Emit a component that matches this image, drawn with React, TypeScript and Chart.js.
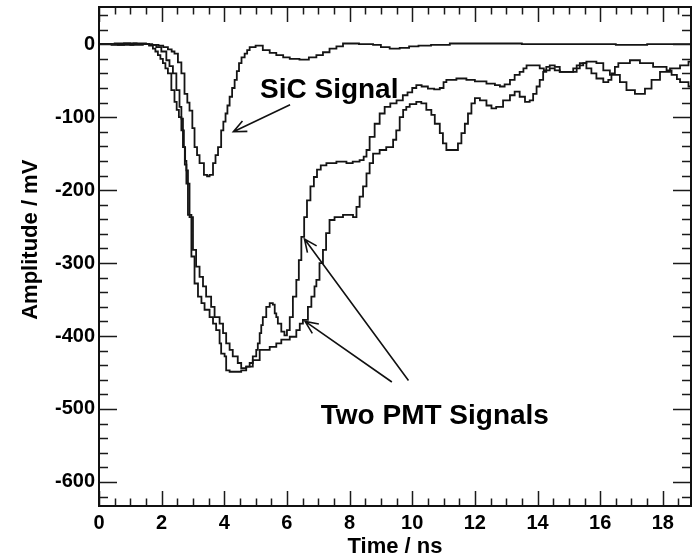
import { useEffect, useRef } from 'react';
import { Chart, registerables } from 'chart.js';

Chart.register(...registerables);

const FONT = '"Liberation Sans", Arial, Helvetica, sans-serif';

// [time (ns), amplitude (mV)], step edges
const sicSignal: [number, number][] = [
  [0, 0], [0.4, -1], [0.8, 1], [1.2, 0], [1.6, -1], [1.9, -2], [2.05, -4], [2.2, -7], [2.32, -10], [2.41, -13],
  [2.52, -25], [2.63, -40], [2.73, -68], [2.82, -80], [2.89, -91], [2.98, -115], [3.05, -141], [3.13, -152], [3.21, -163], [3.35, -179],
  [3.45, -181], [3.53, -179], [3.64, -163], [3.72, -152], [3.8, -141], [3.9, -118], [3.97, -106], [4.04, -95], [4.1, -84], [4.17, -72],
  [4.25, -60], [4.33, -49], [4.4, -37], [4.47, -26], [4.55, -18], [4.65, -13], [4.73, -8], [4.81, -4], [5.0, -2], [5.23, -8],
  [5.45, -12], [5.66, -15], [5.88, -18], [6.09, -20], [6.4, -21], [6.7, -18], [6.94, -15], [7.15, -11], [7.36, -6], [7.58, -3],
  [7.79, 1], [8.3, 0], [8.75, -1], [9.0, -4], [9.28, -6], [9.6, -5], [9.9, -3], [10.2, -2], [10.6, -1], [11.2, 1],
  [12.2, 1], [13.5, 0], [15.0, 0], [16.5, -1], [17.5, 0], [18.9, 0],
];

const pmtSignalA: [number, number][] = [
  [0, 0], [0.5, 1], [1.0, -1], [1.4, 0], [1.6, -2], [1.72, -6], [1.8, -10], [1.88, -15], [1.96, -20], [2.04, -26],
  [2.12, -33], [2.2, -40], [2.31, -63], [2.41, -79], [2.48, -90], [2.55, -100], [2.63, -118], [2.68, -141], [2.74, -165], [2.79, -191],
  [2.84, -234], [2.95, -291], [3.05, -328], [3.16, -346], [3.27, -355], [3.37, -364], [3.53, -374], [3.64, -383], [3.74, -392], [3.85, -410],
  [3.9, -424], [4.01, -428], [4.06, -447], [4.17, -449], [4.54, -447], [4.7, -442], [4.81, -437], [4.91, -428], [5.02, -419], [5.07, -410],
  [5.13, -396], [5.18, -385], [5.23, -374], [5.34, -360], [5.45, -355], [5.55, -357], [5.61, -369], [5.66, -374], [5.71, -383], [5.82, -394],
  [5.92, -399], [6.0, -392], [6.09, -374], [6.19, -346], [6.3, -323], [6.38, -296], [6.46, -264], [6.55, -237], [6.64, -214], [6.75, -195],
  [6.86, -182], [6.96, -172], [7.08, -166], [7.26, -163], [7.58, -161], [7.9, -163], [8.1, -161], [8.32, -159], [8.45, -154], [8.54, -145],
  [8.64, -127], [8.8, -109], [8.96, -95], [9.12, -86], [9.3, -81], [9.5, -77], [9.7, -70], [9.85, -66], [10.0, -60], [10.13, -56],
  [10.3, -58], [10.5, -61], [10.7, -62], [10.88, -60], [11.0, -52], [11.09, -49], [11.41, -47], [11.73, -49], [12.0, -51], [12.37, -54],
  [12.64, -56], [12.8, -58], [12.95, -55], [13.12, -49], [13.27, -42], [13.43, -38], [13.55, -33], [13.65, -29], [13.91, -29], [14.07, -33],
  [14.2, -36], [14.39, -33], [14.55, -36], [14.71, -38], [15.14, -33], [15.35, -26], [15.56, -24], [15.88, -26], [16.1, -36], [16.31, -42],
  [16.63, -52], [16.84, -63], [17.11, -68], [17.43, -61], [17.64, -49], [17.91, -38], [18.23, -33], [18.55, -29], [18.82, -24], [18.9, -24],
];

const pmtSignalB: [number, number][] = [
  [0, 0], [0.6, -1], [1.1, 1], [1.5, 0], [1.7, -1], [1.83, -4], [1.99, -10], [2.15, -22], [2.25, -30], [2.36, -40],
  [2.47, -63], [2.57, -86], [2.63, -102], [2.68, -118], [2.71, -141], [2.75, -160], [2.79, -173], [2.84, -191], [2.89, -237], [3.0, -282],
  [3.1, -305], [3.21, -319], [3.32, -332], [3.42, -346], [3.58, -360], [3.69, -374], [3.85, -383], [3.96, -396], [4.06, -410], [4.17, -419],
  [4.27, -428], [4.43, -437], [4.54, -444], [4.7, -442], [4.91, -433], [5.13, -419], [5.45, -415], [5.66, -410], [5.82, -405], [5.93, -405],
  [6.09, -401], [6.3, -392], [6.41, -383], [6.51, -378], [6.67, -360], [6.78, -346], [6.88, -332], [6.94, -323], [7.04, -300], [7.15, -282],
  [7.25, -259], [7.36, -241], [7.52, -237], [7.79, -234], [8.11, -237], [8.22, -223], [8.32, -209], [8.43, -195], [8.54, -177], [8.64, -163],
  [8.75, -150], [8.96, -145], [9.17, -141], [9.39, -131], [9.49, -118], [9.6, -100], [9.71, -90], [9.81, -86], [9.92, -82], [10.13, -79],
  [10.29, -81], [10.45, -90], [10.61, -97], [10.72, -109], [10.88, -122], [10.98, -136], [11.09, -145], [11.3, -145], [11.46, -136], [11.57, -122],
  [11.68, -109], [11.78, -95], [11.89, -81], [12.0, -74], [12.16, -77], [12.37, -84], [12.53, -88], [12.68, -86], [12.9, -77], [13.12, -70],
  [13.27, -65], [13.43, -72], [13.6, -79], [13.75, -77], [13.86, -68], [13.97, -58], [14.07, -49], [14.18, -38], [14.28, -31], [14.39, -29],
  [14.55, -31], [14.71, -38], [15.03, -38], [15.25, -29], [15.46, -26], [15.56, -33], [15.72, -40], [15.88, -47], [16.1, -52], [16.26, -49],
  [16.36, -40], [16.47, -31], [16.58, -26], [16.95, -22], [17.27, -26], [17.69, -31], [18.12, -36], [18.28, -42], [18.45, -48], [18.55, -52],
  [18.82, -58], [18.9, -58],
];

const xTickLabels = [0, 2, 4, 6, 8, 10, 12, 14, 16, 18];
const yTickLabels = [-600, -500, -400, -300, -200, -100, 0];
const xRange = [0, 18.9];
const yRange = [-633, 51];
const xTitle = 'Time / ns';
const yTitle = 'Amplitude / mV';
const sicLabel = 'SiC Signal';
const pmtLabel = 'Two PMT Signals';

// annotation anchors in data coordinates [t, v]
const sicLabelAt = [5.14, -74];
const sicArrow = [[6.1, -83], [4.29, -120]];
const pmtLabelAt = [7.08, -520];
const pmtArrows = [
  [[9.88, -461], [6.56, -267]],
  [[9.35, -463], [6.58, -380]],
];

const toXY = (arr: [number, number][]) => arr.map(([x, y]) => ({ x, y }));

function drawArrow(ctx: CanvasRenderingContext2D, x1: number, y1: number, x2: number, y2: number) {
  const ang = Math.atan2(y2 - y1, x2 - x1);
  const len = 14;
  const spread = 0.42;
  ctx.beginPath();
  ctx.moveTo(x1, y1);
  ctx.lineTo(x2, y2);
  ctx.moveTo(x2 - len * Math.cos(ang - spread), y2 - len * Math.sin(ang - spread));
  ctx.lineTo(x2, y2);
  ctx.lineTo(x2 - len * Math.cos(ang + spread), y2 - len * Math.sin(ang + spread));
  ctx.stroke();
}

const framePlugin = {
  id: 'rootFrame',
  afterDatasetsDraw(chart: any) {
    const { ctx, chartArea: a, scales } = chart;
    const x = scales.x;
    const y = scales.y;
    ctx.save();
    ctx.strokeStyle = '#1a1a1a';
    ctx.lineWidth = 1.5;
    ctx.beginPath();
    for (let i = 0; i * 0.5 <= xRange[1] + 1e-6; i++) {
      const t = i * 0.5;
      const px = Math.round(x.getPixelForValue(t)) + 0.5;
      const len = i % 4 === 0 ? 15 : 7.5;
      ctx.moveTo(px, a.bottom);
      ctx.lineTo(px, a.bottom - len);
      ctx.moveTo(px, a.top);
      ctx.lineTo(px, a.top + len);
    }
    for (let v = -620; v <= 40; v += 20) {
      const py = Math.round(y.getPixelForValue(v)) + 0.5;
      const len = v % 100 === 0 ? 18 : 9;
      ctx.moveTo(a.left, py);
      ctx.lineTo(a.left + len, py);
      ctx.moveTo(a.right, py);
      ctx.lineTo(a.right - len, py);
    }
    ctx.stroke();

    ctx.lineWidth = 2;
    ctx.strokeStyle = '#111';
    ctx.strokeRect(a.left, a.top, a.right - a.left, a.bottom - a.top);

    // annotations
    ctx.fillStyle = '#000';
    ctx.font = `bold 28px ${FONT}`;
    ctx.textAlign = 'left';
    ctx.textBaseline = 'alphabetic';
    ctx.fillText(sicLabel, x.getPixelForValue(sicLabelAt[0]), y.getPixelForValue(sicLabelAt[1]));
    ctx.fillText(pmtLabel, x.getPixelForValue(pmtLabelAt[0]), y.getPixelForValue(pmtLabelAt[1]));

    ctx.strokeStyle = '#111';
    ctx.lineWidth = 1.6;
    const arrows = [sicArrow, ...pmtArrows];
    for (const [[t1, v1], [t2, v2]] of arrows) {
      drawArrow(ctx, x.getPixelForValue(t1), y.getPixelForValue(v1), x.getPixelForValue(t2), y.getPixelForValue(v2));
    }

    // y axis title
    ctx.save();
    ctx.translate(30.5, y.getPixelForValue(-268));
    ctx.rotate(-Math.PI / 2);
    ctx.font = `bold 22px ${FONT}`;
    ctx.textAlign = 'center';
    ctx.textBaseline = 'middle';
    ctx.fillText(yTitle, 0, 0);
    ctx.restore();

    ctx.restore();
  },
};

export default function App() {
  const ref = useRef<HTMLCanvasElement>(null);
  useEffect(() => {
    document.body.style.margin = '0';
    const lineStyle = {
      borderColor: '#141414',
      borderWidth: 1.8,
      pointRadius: 0,
      fill: false,
      stepped: 'before' as const,
    };
    const chart = new Chart(ref.current!, {
      type: 'line',
      data: {
        datasets: [
          { label: 'SiC', data: toXY(sicSignal), ...lineStyle },
          { label: 'PMT A', data: toXY(pmtSignalA), ...lineStyle },
          { label: 'PMT B', data: toXY(pmtSignalB), ...lineStyle },
        ],
      },
      options: {
        responsive: false,
        animation: false,
        devicePixelRatio: 1,
        parsing: false,
        layout: { padding: { left: 0, right: 7, top: 7, bottom: 0 } },
        plugins: { legend: { display: false }, tooltip: { enabled: false } },
        scales: {
          x: {
            type: 'linear',
            min: xRange[0],
            max: xRange[1],
            grid: { display: false, drawTicks: false },
            border: { display: false },
            afterBuildTicks: (s: any) => {
              s.ticks = xTickLabels.map((v) => ({ value: v }));
            },
            afterFit: (s: any) => {
              s.height = 52;
              s.paddingLeft = 0;
              s.paddingRight = 0;
              s.paddingTop = 0;
              s.paddingBottom = 0;
            },
            ticks: {
              font: { family: FONT, size: 20, weight: 'bold' },
              color: '#000',
              padding: 5,
              maxRotation: 0,
              autoSkip: false,
            },
            title: {
              display: true,
              text: xTitle,
              color: '#000',
              font: { family: FONT, size: 22, weight: 'bold', lineHeight: 1 },
              padding: 0,
            },
          },
          y: {
            type: 'linear',
            min: yRange[0],
            max: yRange[1],
            grid: { display: false, drawTicks: false },
            border: { display: false },
            afterBuildTicks: (s: any) => {
              s.ticks = yTickLabels.map((v) => ({ value: v }));
            },
            afterFit: (s: any) => {
              s.width = 99;
              s.paddingLeft = 0;
              s.paddingRight = 0;
              s.paddingTop = 0;
              s.paddingBottom = 0;
            },
            ticks: {
              font: { family: FONT, size: 20, weight: 'bold' },
              color: '#000',
              padding: 4,
              autoSkip: false,
            },
          },
        },
      },
      plugins: [framePlugin],
    } as any);
    return () => chart.destroy();
  }, []);
  return (
    <div style={{ position: 'fixed', left: 0, top: 0, width: 698, height: 558, background: '#fff' }}>
      <canvas ref={ref} width={698} height={558} style={{ display: 'block', width: 698, height: 558 }} />
    </div>
  );
}
